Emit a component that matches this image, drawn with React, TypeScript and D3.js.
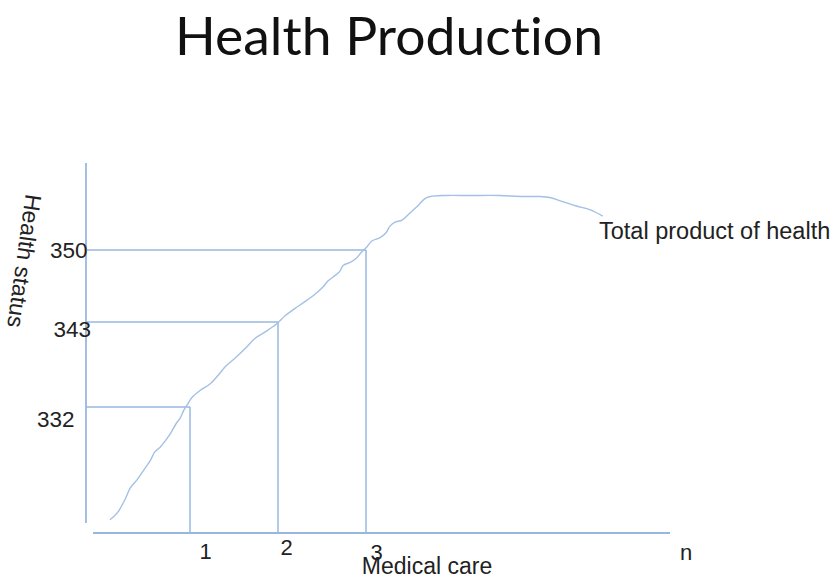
import React from "react";
import * as d3 from "d3";

// Total product of health: medical care (x) vs. health status (y)
const careUnits: number[] = [
  0.09, 0.18, 0.26, 0.32, 0.4, 0.49, 0.55, 0.6, 0.66, 0.75, 0.8, 0.84, 0.89, 0.93, 0.97,
  1.02, 1.11, 1.23, 1.32, 1.4, 1.51, 1.63, 1.74, 1.85, 1.98, 2.08, 2.19, 2.31, 2.42, 2.5,
  2.57, 2.63, 2.7, 2.74, 2.82, 2.89, 2.95, 3.01, 3.07, 3.16, 3.23, 3.27, 3.33, 3.41, 3.5,
  3.59, 3.67, 3.73, 3.9, 4.18, 4.52, 4.75, 4.98, 5.09, 5.2, 5.38, 5.55, 5.69,
];
const healthStatus: number[] = [
  317.4, 318.4, 320.0, 321.5, 322.6, 324.1, 325.1, 326.2, 326.8, 328.1, 329.0, 329.8, 330.6, 331.6, 332.3,
  333.2, 334.1, 335.0, 336.1, 337.2, 338.3, 339.6, 340.9, 341.7, 342.7, 343.6, 344.3, 345.0, 345.7, 346.3,
  347.0, 347.4, 347.9, 348.5, 348.8, 349.2, 349.8, 350.3, 350.9, 351.2, 351.7, 352.3, 352.7, 352.9, 353.6,
  354.3, 355.0, 355.2, 355.3, 355.3, 355.3, 355.2, 355.2, 355.1, 354.8, 354.3, 353.9, 353.3,
];

// Reference readings: care level and the health status it yields
const careTicks: number[] = [1, 2, 3];
const statusTicks: number[] = [332, 343, 350];
const careTickLabels: string[] = ["1", "2", "3"];
const statusTickLabels: string[] = ["332", "343", "350"];

const title = "Health Production";
const curveLabel = "Total product of health";
const xTitle = "Medical care";
const yTitle = "Health status";
const xEndLabel = "n";

// Hand-placed label nudges (px)
const careLabelNudge = [
  { dx: 15.5, dy: 26 },
  { dx: 8.5, dy: 22 },
  { dx: 10.5, dy: 27 },
];
const statusLabelNudge = [
  { x: 74.5, dy: 20 },
  { x: 91, dy: 15 },
  { x: 87.5, dy: 7.5 },
];

const W = 838;
const H = 578;
const lineBlue = "#98b7e0";
const curveBlue = "#a3c0e5";
const ink = "#222";

export default function App() {
  // horizontal: units of medical care
  const x = d3.scaleLinear().domain([1, 3]).range([190, 366]);
  // vertical: piecewise scale through the three marked health levels
  const y = d3.scaleLinear().domain([332, 343, 350]).range([407, 322, 250]);

  const axisLeftX = 86;
  const axisTop = 163;
  const axisLeftBottom = 523;
  const axisBottomY = 533;
  const axisBottomStart = 93;
  const axisBottomEnd = 670;

  const pts: [number, number][] = careUnits.map((c, i) => [c, healthStatus[i]]);
  const line = d3
    .line<[number, number]>()
    .x((d) => x(d[0]))
    .y((d) => y(d[1]))
    .curve(d3.curveCatmullRom.alpha(0.5));

  const font = "'Liberation Sans', Arial, sans-serif";

  return (
    <svg
      width={W}
      height={H}
      style={{ position: "absolute", left: 0, top: 0, background: "#fff" }}
    >
      <text
        x={389}
        y={55}
        textAnchor="middle"
        fontFamily="Lato, 'Open Sans', sans-serif"
        fontSize={53}
        textLength={428}
        lengthAdjust="spacingAndGlyphs"
        fill="#111"
        style={{ fontVariantLigatures: "none", fontFeatureSettings: "'liga' 0" }}
      >
        {title}
      </text>

      {/* axes */}
      <line x1={axisLeftX} y1={axisTop} x2={axisLeftX} y2={axisLeftBottom} stroke={lineBlue} strokeWidth={1.8} />
      <line x1={axisBottomStart} y1={axisBottomY} x2={axisBottomEnd} y2={axisBottomY} stroke={lineBlue} strokeWidth={1.8} />

      {/* guide lines from each care level to its health status */}
      {careTicks.map((c, i) => (
        <g key={`g${i}`}>
          <line
            x1={axisLeftX}
            y1={y(statusTicks[i])}
            x2={x(c)}
            y2={y(statusTicks[i])}
            stroke={lineBlue}
            strokeWidth={1.5}
          />
          <line
            x1={x(c)}
            y1={y(statusTicks[i])}
            x2={x(c)}
            y2={axisBottomY}
            stroke={lineBlue}
            strokeWidth={1.5}
          />
        </g>
      ))}

      {/* production curve */}
      <path d={line(pts) ?? ""} fill="none" stroke={curveBlue} strokeWidth={1.4} />

      {/* tick labels */}
      {careTicks.map((c, i) => (
        <text
          key={`cx${i}`}
          x={x(c) + careLabelNudge[i].dx}
          y={axisBottomY + careLabelNudge[i].dy}
          textAnchor="middle"
          fontFamily={font}
          fontSize={22}
          fill={ink}
        >
          {careTickLabels[i]}
        </text>
      ))}
      {statusTicks.map((s, i) => (
        <text
          key={`sy${i}`}
          x={statusLabelNudge[i].x}
          y={y(s) + statusLabelNudge[i].dy}
          textAnchor="end"
          fontFamily={font}
          fontSize={22.5}
          fill={ink}
        >
          {statusTickLabels[i]}
        </text>
      ))}

      <text x={599} y={239} fontFamily={font} fontSize={23.5} fill={ink}>
        {curveLabel}
      </text>
      <text x={427} y={574} textAnchor="middle" fontFamily={font} fontSize={23} fill={ink}>
        {xTitle}
      </text>
      <text x={686} y={560} textAnchor="middle" fontFamily={font} fontSize={22} fill={ink}>
        {xEndLabel}
      </text>
      <text
        transform="translate(24.5,261) rotate(98)"
        textAnchor="middle"
        dy="0.35em"
        fontFamily={font}
        fontSize={23}
        fill={ink}
      >
        {yTitle}
      </text>
    </svg>
  );
}
